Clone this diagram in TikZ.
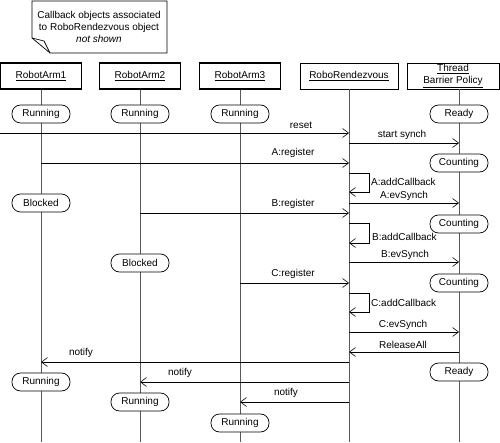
\documentclass[tikz,border=0pt]{standalone}
\usepackage{fontspec}
\setmainfont{Liberation Sans}
\usetikzlibrary{arrows.meta}
\begin{document}
\begin{tikzpicture}[x=1pt,y=-1pt,
    every node/.style={font=\fontsize{10}{12}\selectfont},
    objbox/.style={draw,line width=1.7pt,minimum width=81pt,minimum height=26pt,inner sep=0pt},
    ctlbox/.style={draw,line width=.6pt,minimum height=26pt,inner sep=0pt,align=center},
    state/.style={draw,line width=.7pt,fill=white,rounded corners=8.5pt,minimum width=58pt,minimum height=18pt,inner sep=0pt},
    life/.style={black!65,line width=.6pt},
    msg/.style={-{Straight Barb[length=6pt,width=9pt]},line width=.6pt},
    lbl/.style={inner sep=1pt}]
    \useasboundingbox (0,0) rectangle (500,443);
    % note
    \draw[line width=.7pt] (32,1) -- (167,1) -- (167,53) -- (50,53) -- (32,38) -- cycle;
    \draw[line width=.7pt] (32,38) -- (44,41) -- (50,53);
    \node[align=center] (note) at (99,27) {Callback objects associated\\to RoboRendezvous object\\\textit{not shown}};
    % objects
    \node[objbox] (arm1) at (41,76) {\underline{RobotArm1}};
    \node[objbox] (arm2) at (140,76) {\underline{RobotArm2}};
    \node[objbox] (arm3) at (240,76) {\underline{RobotArm3}};
    \node[ctlbox,minimum width=98pt] (rdv) at (349,76) {\underline{RoboRendezvous}};
    \node[ctlbox,minimum width=92pt] (tbp) at (453,76) {\underline{Thread}\\\underline{Barrier Policy}};
    \coordinate (tbpl) at (459,89);
    % lifelines
    \draw[life,line width=1pt] (arm1.south) -- (arm1.south |- 0,442);
    \draw[life] (arm2.south) -- (arm2.south |- 0,442);
    \draw[life] (arm3.south) -- (arm3.south |- 0,442);
    \draw[life] (rdv.south) -- (rdv.south |- 0,442);
    \draw[life] (tbpl) -- (tbpl |- 0,442);
    % states
    \node[state] (run1) at (41,114) {Running};
    \node[state] (run2) at (140,114) {Running};
    \node[state] (run3) at (240,114) {Running};
    \node[state] (ready1) at (459,114) {Ready};
    \node[state] (count1) at (459,163) {Counting};
    \node[state] (block1) at (41,203) {Blocked};
    \node[state] (count2) at (459,224) {Counting};
    \node[state] (block2) at (140,263) {Blocked};
    \node[state] (count3) at (459,283) {Counting};
    \node[state] (ready2) at (459,372) {Ready};
    \node[state] (run1b) at (41,382) {Running};
    \node[state] (run2b) at (140,402) {Running};
    \node[state] (run3b) at (240,423) {Running};
    % messages
    \coordinate (rst) at (0,133);
    \draw[msg] (rst) -- (rdv |- rst);
    \node[lbl] (lreset) at (301,125) {reset};
    \draw[msg] (rdv |- 0,143) -- (tbpl |- 0,143);
    \node[lbl] (lsynch) at (402,135) {start synch};
    \draw[msg] (arm1 |- 0,163) -- (rdv |- 0,163);
    \node[lbl] (lregA) at (293,153) {A:register};
    \draw[msg] (rdv |- 0,173) -- (369,173) -- (369,192) -- (rdv |- 0,192);
    \node[lbl,anchor=west] (laddA) at (370,182) {A:addCallback};
    \draw[msg] (rdv |- 0,203) -- (tbpl |- 0,203);
    \node[lbl] (levA) at (404,196) {A:evSynch};
    \draw[msg] (arm2 |- 0,213) -- (rdv |- 0,213);
    \node[lbl] (lregB) at (293,204) {B:register};
    \draw[msg] (rdv |- 0,223) -- (369,223) -- (369,243) -- (rdv |- 0,243);
    \node[lbl,anchor=west] (laddB) at (371,237) {B:addCallback};
    \draw[msg] (rdv |- 0,262) -- (tbpl |- 0,262);
    \node[lbl] (levB) at (405,255) {B:evSynch};
    \draw[msg] (arm3 |- 0,283) -- (rdv |- 0,283);
    \node[lbl] (lregC) at (293,274) {C:register};
    \draw[msg] (rdv |- 0,293) -- (369,293) -- (369,312) -- (rdv |- 0,312);
    \node[lbl,anchor=west] (laddC) at (370,303) {C:addCallback};
    \draw[msg] (rdv |- 0,332) -- (tbpl |- 0,332);
    \node[lbl] (levC) at (403,325) {C:evSynch};
    \draw[msg] (tbpl |- 0,352) -- (rdv |- 0,352);
    \node[lbl] (lrel) at (403,345) {ReleaseAll};
    \draw[msg] (rdv |- 0,362) -- (arm1 |- 0,362);
    \node[lbl] (lnot1) at (81,353) {notify};
    \draw[msg] (rdv |- 0,382) -- (arm2 |- 0,382);
    \node[lbl] (lnot2) at (180,373) {notify};
    \draw[msg] (rdv |- 0,402) -- (arm3 |- 0,402);
    \node[lbl] (lnot3) at (286,393) {notify};
\end{tikzpicture}
\end{document}
